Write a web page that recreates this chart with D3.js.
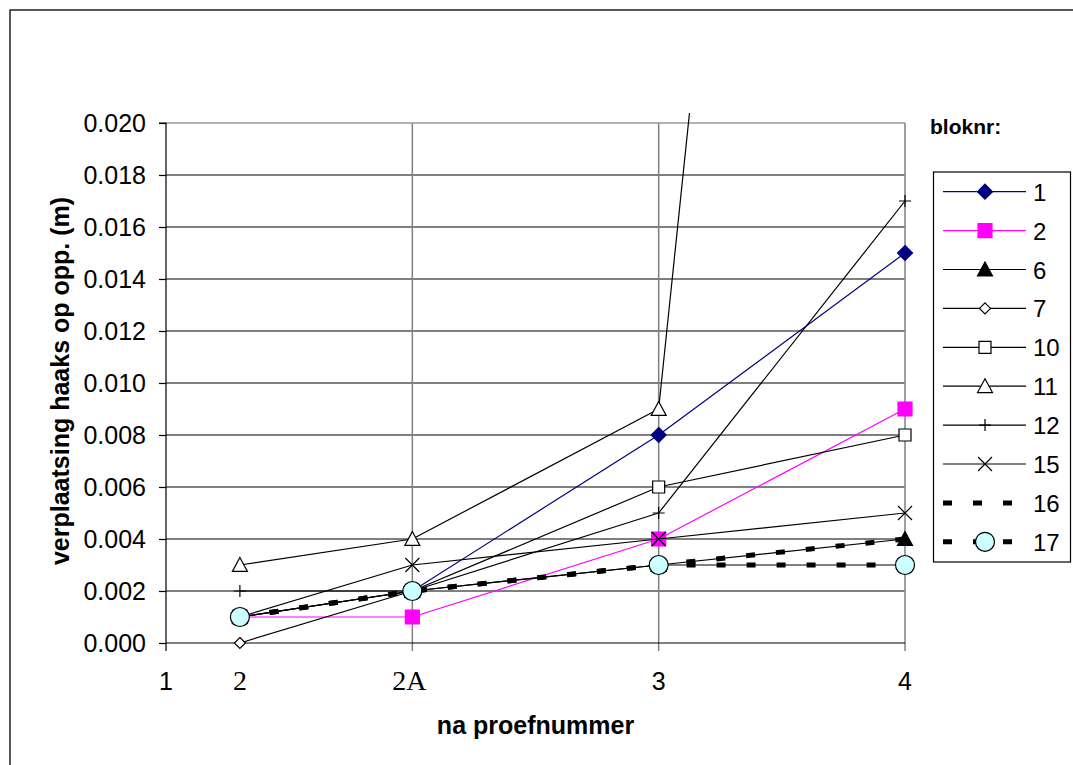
<!DOCTYPE html>
<html><head><meta charset="utf-8">
<script src="https://cdn.jsdelivr.net/npm/d3@7"></script>
<style>body{margin:0;background:#fff}svg{display:block}</style>
</head><body>
<svg id="c" width="1073" height="765"></svg>
<script>
// ---- data ----
const xPositions = [1.3, 2, 3, 4];               // proef "2", "2A", "3", "4"
const xTickValues = [1, 1.3, 2, 3, 4];
const xTickLabels = ["1", "2", "2A", "3", "4"];
const yTickValues = [0, 0.002, 0.004, 0.006, 0.008, 0.010, 0.012, 0.014, 0.016, 0.018, 0.020];
const seriesNames = ["1", "2", "6", "7", "10", "11", "12", "15", "16", "17"];
const s1  = [0.001, 0.002, 0.008, 0.015];
const s2  = [0.001, 0.001, 0.004, 0.009];
const s6  = [0.001, 0.002, 0.003, 0.004];
const s7  = [0.000, 0.002, 0.003, 0.003];
const s10 = [0.001, 0.002, 0.006, 0.008];
const s11 = [0.003, 0.004, 0.009, 0.100];
const s12 = [0.002, 0.002, 0.005, 0.017];
const s15 = [0.001, 0.003, 0.004, 0.005];
const s16 = [0.001, 0.002, 0.003, 0.004];
const s17 = [0.001, 0.002, 0.003, 0.003];
const seriesValues = [s1, s2, s6, s7, s10, s11, s12, s15, s16, s17];

// ---- styles ----
const styles = {
  "1":  {color:"#000080", width:1.2, marker:"diamond", fill:"#000080", stroke:"#000080", ms:7.5},
  "2":  {color:"#FF00FF", width:1.2, marker:"square", fill:"#FF00FF", stroke:"#FF00FF", ms:7},
  "6":  {color:"#000", width:1.2, marker:"triangle", fill:"#000", stroke:"#000", ms:7.5},
  "7":  {color:"#000", width:1.2, marker:"diamond", fill:"#fff", stroke:"#000", ms:5.5},
  "10": {color:"#000", width:1.2, marker:"square", fill:"#fff", stroke:"#000", ms:6},
  "11": {color:"#000", width:1.2, marker:"triangle", fill:"#fff", stroke:"#000", ms:7.5},
  "12": {color:"#000", width:1.2, marker:"plus", fill:"none", stroke:"#000", ms:6},
  "15": {color:"#000", width:1.2, marker:"x", fill:"none", stroke:"#000", ms:7},
  "16": {color:"#000", width:5, dash:"9,21", marker:null},
  "17": {color:"#000", width:5, dash:"9,21", marker:"circle", fill:"#CCFFFF", stroke:"#000", ms:9.5}
};

function markerPath(type, s){
  switch(type){
    case "diamond": return `M0,${-s}L${s},0L0,${s}L${-s},0Z`;
    case "square": return `M${-s},${-s}H${s}V${s}H${-s}Z`;
    case "triangle": return `M0,${-s}L${s},${s*0.85}L${-s},${s*0.85}Z`;
    case "plus": return `M${-s},0H${s}M0,${-s}V${s}`;
    case "x": return `M${-s},${-s}L${s},${s}M${-s},${s}L${s},${-s}`;
  }
}
function drawMarker(g, st, x, y){
  if(!st.marker) return;
  if(st.marker==="circle"){
    g.append("circle").attr("cx",x).attr("cy",y).attr("r",st.ms)
      .attr("fill",st.fill).attr("stroke",st.stroke).attr("stroke-width",1.2);
  } else {
    g.append("path").attr("transform",`translate(${x},${y})`).attr("d",markerPath(st.marker, st.ms))
      .attr("fill",st.fill).attr("stroke",st.stroke).attr("stroke-width",1.2);
  }
}

const svg = d3.select("#c");
const SANS = "'Liberation Sans', Arial, sans-serif";
const SERIF = "'Liberation Serif', 'Times New Roman', serif";

// outer chart border (extends beyond right / bottom)
svg.append("rect").attr("x",10).attr("y",10).attr("width",1100).attr("height",800)
  .attr("fill","#fff").attr("stroke","#222").attr("stroke-width",1.5);

const L=166, R=905, T=123, B=643;
const x = d3.scaleLinear().domain([1,4]).range([L,R]);
const y = d3.scaleLinear().domain([0,0.020]).range([B,T]);

// horizontal gridlines (black)
svg.append("g").selectAll("line").data(yTickValues.slice(1,-1)).join("line")
  .attr("x1",L).attr("x2",R).attr("y1",d=>y(d)).attr("y2",d=>y(d))
  .attr("stroke","#000").attr("stroke-width",1.2);
// vertical gridlines (gray)
svg.append("g").selectAll("line").data([2,3]).join("line")
  .attr("x1",d=>x(d)).attr("x2",d=>x(d)).attr("y1",T).attr("y2",B+8)
  .attr("stroke","#808080").attr("stroke-width",1.5);
// plot frame top/right gray
svg.append("line").attr("x1",L).attr("x2",R).attr("y1",T).attr("y2",T).attr("stroke","#999").attr("stroke-width",1.5);
svg.append("line").attr("x1",R).attr("x2",R).attr("y1",T).attr("y2",B+8).attr("stroke","#808080").attr("stroke-width",1.5);

// y axis
const yAxis = d3.axisLeft(y).tickValues(yTickValues).tickFormat(d3.format(".3f")).tickSize(7).tickPadding(13);
const gy = svg.append("g").attr("transform",`translate(${L},0)`).call(yAxis);
gy.select(".domain").attr("stroke","#000").attr("stroke-width",1.2).attr("d",`M-7,${T}H0V${B}`);
gy.selectAll(".tick line").attr("stroke","#000").attr("stroke-width",1.2);
gy.selectAll(".tick text").attr("font-family",SANS).attr("font-size",25).attr("fill","#000");

// x axis line
svg.append("line").attr("x1",L).attr("x2",R).attr("y1",B).attr("y2",B).attr("stroke","#000").attr("stroke-width",1.2);
svg.append("line").attr("x1",L).attr("x2",L).attr("y1",B).attr("y2",B+8).attr("stroke","#000").attr("stroke-width",1.2);
// x tick labels
xTickValues.forEach((v,i)=>{
  const lab = xTickLabels[i];
  const serif = (lab==="2"||lab==="2A");
  svg.append("text").attr("x",x(v)+(lab==="2A"?-3:0)).attr("y",690)
    .attr("text-anchor","middle").attr("font-family",serif?SERIF:SANS)
    .attr("font-size",serif?28:25).attr("fill","#000").text(lab);
});

// axis titles
svg.append("text").attr("x",(L+R)/2).attr("y",734).attr("text-anchor","middle")
  .attr("font-family",SANS).attr("font-weight","bold").attr("font-size",25).text("na proefnummer");
svg.append("text").attr("transform","translate(69,381) rotate(-90)").attr("text-anchor","middle")
  .attr("font-family",SANS).attr("font-weight","bold").attr("font-size",25).text("verplaatsing haaks op opp. (m)");

// clip for series
svg.append("defs").append("clipPath").attr("id","clip")
  .append("rect").attr("x",L-20).attr("y",113).attr("width",R-L+40).attr("height",B-113+20);

const gSeries = svg.append("g").attr("clip-path","url(#clip)");
const line = d3.line().x((d,i)=>x(xPositions[i])).y(d=>y(d));
seriesNames.forEach((name, si)=>{
  const st = styles[name];
  const vals = seriesValues[si];
  gSeries.append("path").attr("d", line(vals)).attr("fill","none")
    .attr("stroke",st.color).attr("stroke-width",st.width)
    .attr("stroke-dasharray",st.dash||null).attr("stroke-linejoin","round");
  const gm = gSeries.append("g");
  vals.forEach((v,i)=>{ if(y(v)>=T-5) drawMarker(gm, st, x(xPositions[i]), y(v)); });
});

// legend
svg.append("text").attr("x",930).attr("y",134).attr("font-family",SANS).attr("font-weight","bold")
  .attr("font-size",21).text("bloknr:");
svg.append("rect").attr("x",933.5).attr("y",172).attr("width",137).attr("height",390)
  .attr("fill","#fff").attr("stroke","#000").attr("stroke-width",1.2);
seriesNames.forEach((name,i)=>{
  const st = styles[name];
  const ly = 191.7 + i*38.9;
  const g = svg.append("g");
  g.append("line").attr("x1",943).attr("x2",1026).attr("y1",ly).attr("y2",ly)
    .attr("stroke",st.color).attr("stroke-width",st.width).attr("stroke-dasharray",st.dash||null);
  drawMarker(g, st, 985, ly);
  g.append("text").attr("x",1033).attr("y",ly+9).attr("font-family",SANS).attr("font-size",24).text(name);
});
</script>
</body></html>
